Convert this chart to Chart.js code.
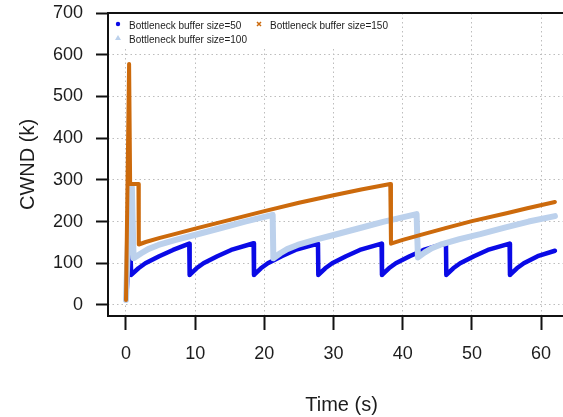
<!DOCTYPE html>
<html>
<head>
<meta charset="utf-8">
<script src="https://cdn.jsdelivr.net/npm/chart.js"></script>
<style>
  html, body { margin: 0; padding: 0; background: #fff; overflow: hidden; }
  canvas { display: block; }
</style>
</head>
<body>
<canvas id="cwnd-chart" width="576" height="417"></canvas>
<script>
// axis ticks
const xTicks = [0, 10, 20, 30, 40, 50, 60];
const yTicks = [0, 100, 200, 300, 400, 500, 600, 700];

const seriesLabels = [
    'Bottleneck buffer size=50',
    'Bottleneck buffer size=100',
    'Bottleneck buffer size=150'
];

// buffer size 50 (blue sawtooth)
const time50 = [0, 0.6, 0.75, 1.8, 2.8, 4.8, 6.8, 9.15,
    9.2, 10.2, 11.2, 13.2, 15.2, 18.45,
    18.5, 19.5, 20.5, 22.5, 24.5, 27.75,
    27.8, 28.8, 29.8, 31.8, 33.8, 36.95,
    37.0, 38.0, 39.0, 41.0, 43.0, 46.25,
    46.3, 47.3, 48.3, 50.3, 52.3, 55.45,
    55.5, 56.5, 57.5, 59.5, 62.0];
const cwnd50 = [12, 150, 72, 88, 100, 117, 132, 147,
    72, 88, 100, 117, 132, 148,
    72, 88, 100, 117, 132, 147,
    72, 88, 100, 117, 132, 147,
    72, 88, 100, 117, 132, 148,
    72, 88, 100, 117, 132, 147,
    72, 88, 100, 117, 130];

// buffer size 100 (light blue)
const time100 = [0, 0.55, 0.85, 1.1, 2.2, 3.2, 4.7, 7.2, 10.2, 13.6, 17.2, 21.2,
    21.3, 22.3, 23.3, 24.8, 27.3, 30.3, 33.7, 37.3, 42.0,
    42.2, 43.2, 44.2, 45.7, 48.2, 51.2, 54.6, 58.2, 62.0];
const cwnd100 = [12, 282, 282, 112, 124, 134, 144, 156, 169, 184, 200, 216,
    112, 124, 134, 144, 156, 169, 184, 200, 218,
    114, 126, 136, 146, 158, 170, 185, 200, 213];

// buffer size 150 (orange)
const time150 = [0, 0.45, 0.6, 1.8, 1.85, 2.85, 4.9, 7, 10, 15, 20, 25, 30, 34, 38.2,
    38.3, 40, 43, 46.3, 50, 55, 58, 62];
const cwnd150 = [12, 578, 290, 290, 145, 151, 161, 170, 183, 204, 225, 245, 263, 277, 290,
    147, 156, 170, 185, 201, 220, 232, 247];

const colors = ['#0a0ae6', '#bcd1ec', '#cc6a0c'];

const toPoints = (t, v) => t.map((x, i) => ({ x: x, y: v[i] }));

const textColor = '#1c1c1c';
const gridColor = '#bdbdbd';
const labelFont = { family: 'Liberation Sans, Arial, sans-serif', size: 18 };
const titleFont = { family: 'Liberation Sans, Arial, sans-serif', size: 20 };

// black frame round the plot region
const framePlugin = {
    id: 'frame',
    afterDatasetsDraw(chart) {
        const { ctx, chartArea: a } = chart;
        ctx.save();
        ctx.strokeStyle = '#111';
        ctx.lineWidth = 2;
        ctx.strokeRect(a.left, a.top, a.right - a.left, a.bottom - a.top);
        ctx.restore();
    }
};

// R-style legend in the top left corner of the plot
const legendPlugin = {
    id: 'insetLegend',
    afterDatasetsDraw(chart) {
        const ctx = chart.ctx;
        const a = chart.chartArea;
        const ds = chart.data.datasets;
        ctx.save();
        ctx.fillStyle = '#fff';
        ctx.fillRect(a.left + 1, a.top + 1, 285, 33);
        ctx.font = '10px Liberation Sans, Arial, sans-serif';
        ctx.textBaseline = 'alphabetic';

        const slots = [
            { mx: 118, my: 24, tx: 129, ty: 29 },
            { mx: 118, my: 38, tx: 129, ty: 43 },
            { mx: 259, my: 24, tx: 270, ty: 29 }
        ];
        slots.forEach((s, i) => {
            ctx.fillStyle = textColor;
            ctx.fillText(ds[i].label, s.tx, s.ty);
            ctx.fillStyle = ds[i].borderColor;
            ctx.strokeStyle = ds[i].borderColor;
            if (i === 0) {
                ctx.beginPath();
                ctx.arc(s.mx, s.my, 2.2, 0, Math.PI * 2);
                ctx.fill();
            } else if (i === 1) {
                ctx.beginPath();
                ctx.moveTo(s.mx, s.my - 3);
                ctx.lineTo(s.mx + 3, s.my + 2);
                ctx.lineTo(s.mx - 3, s.my + 2);
                ctx.closePath();
                ctx.fill();
            } else {
                ctx.lineWidth = 1.5;
                ctx.beginPath();
                ctx.moveTo(s.mx - 2, s.my - 2);
                ctx.lineTo(s.mx + 2, s.my + 2);
                ctx.moveTo(s.mx + 2, s.my - 2);
                ctx.lineTo(s.mx - 2, s.my + 2);
                ctx.stroke();
            }
        });
        ctx.restore();
    }
};

const ctx = document.getElementById('cwnd-chart').getContext('2d');
new Chart(ctx, {
    type: 'line',
    data: {
        datasets: [
            { label: seriesLabels[0], data: toPoints(time50, cwnd50), borderColor: colors[0], borderWidth: 4.5, order: 2 },
            { label: seriesLabels[1], data: toPoints(time100, cwnd100), borderColor: colors[1], borderWidth: 6, order: 1 },
            { label: seriesLabels[2], data: toPoints(time150, cwnd150), borderColor: colors[2], borderWidth: 4, order: 0 }
        ].map(d => Object.assign(d, {
            pointRadius: 0,
            tension: 0,
            fill: false,
            borderJoinStyle: 'round',
            borderCapStyle: 'round'
        }))
    },
    options: {
        responsive: false,
        animation: false,
        devicePixelRatio: 1,
        layout: { padding: { top: 13, right: 1, left: 0, bottom: 0 } },
        plugins: {
            legend: { display: false },
            tooltip: { enabled: false }
        },
        scales: {
            x: {
                type: 'linear',
                min: -2.6,
                max: 64.9,
                afterBuildTicks: axis => { axis.ticks = xTicks.map(v => ({ value: v })); },
                afterFit: axis => { axis.height = 101; axis.paddingLeft = 0; axis.paddingRight = 0; },
                ticks: { color: textColor, font: labelFont, padding: 13, maxRotation: 0 },
                grid: { color: gridColor, lineWidth: 1, tickLength: 14, tickColor: '#111', tickWidth: 2 },
                border: { display: false, dash: [1.5, 3] },
                title: { display: true, text: 'Time (s)', color: textColor, font: titleFont, padding: { top: 0, bottom: 0 } }
            },
            y: {
                type: 'linear',
                min: -26.4,
                max: 700,
                afterBuildTicks: axis => { axis.ticks = yTicks.map(v => ({ value: v })); },
                afterFit: axis => { axis.width = 108; axis.paddingTop = 0; axis.paddingBottom = 0; },
                ticks: { color: textColor, font: labelFont, padding: 13 },
                grid: { color: gridColor, lineWidth: 1, tickLength: 12, tickColor: '#111', tickWidth: 2 },
                border: { display: false, dash: [1.5, 3] },
                title: { display: true, text: 'CWND (k)', color: textColor, font: titleFont, padding: { top: 16, bottom: 0 } }
            }
        }
    },
    plugins: [framePlugin, legendPlugin]
});
</script>
</body>
</html>
